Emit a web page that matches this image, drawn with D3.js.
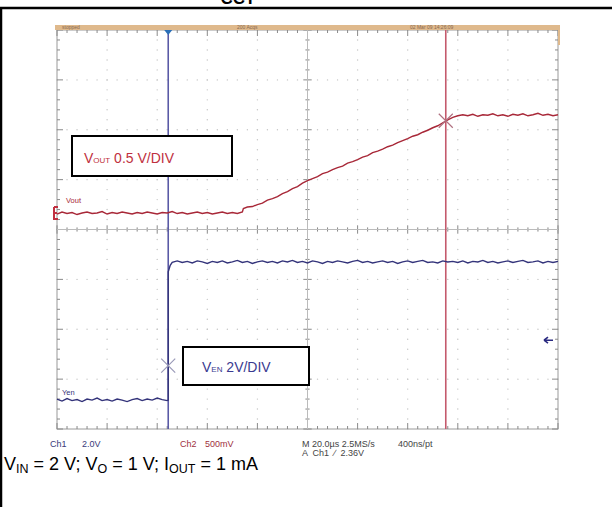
<!DOCTYPE html>
<html lang="en">
<head>
<meta charset="utf-8">
<script src="https://cdn.jsdelivr.net/npm/d3@7/dist/d3.min.js"></script>
<style>
body{margin:0;background:#fff;}
svg text{font-family:"Liberation Sans",Arial,sans-serif;}
</style>
</head>
<body>
<div id="drawarea"></div>
<script>
// scope screen: 10 x 8 divisions, values in divisions
const xDivs=[0,1,2,3,4,5,6,7,8,9,10]
const yDivs=[-4,-3,-2,-1,0,1,2,3,4]
// Vout trace (Ch2, 0.5 V/div) [time div, level div]
const voutPts=[[0,0.31],[0.1,0.35],[0.2,0.32],[0.3,0.34],[0.4,0.30],[0.5,0.33],[0.6,0.35],[0.7,0.32],[0.8,0.33],[0.9,0.36],
[1.0,0.31],[1.1,0.34],[1.2,0.32],[1.3,0.35],[1.4,0.33],[1.5,0.31],[1.6,0.34],[1.7,0.32],[1.8,0.35],[1.9,0.33],
[2.0,0.31],[2.1,0.34],[2.2,0.33],[2.3,0.36],[2.4,0.32],[2.5,0.34],[2.6,0.31],[2.7,0.33],[2.8,0.35],[2.9,0.32],
[3.0,0.34],[3.1,0.31],[3.2,0.33],[3.3,0.35],[3.4,0.32],[3.5,0.34],[3.6,0.32],[3.7,0.35],[3.72,0.42],[3.8,0.45],[3.9,0.46],
[4.0,0.50],[4.1,0.53],[4.2,0.59],[4.3,0.62],[4.4,0.66],[4.5,0.72],[4.6,0.76],[4.7,0.82],[4.8,0.86],[4.9,0.93],
[5.0,0.98],[5.1,1.02],[5.2,1.06],[5.3,1.12],[5.4,1.15],[5.5,1.20],[5.6,1.24],[5.7,1.27],[5.8,1.33],[5.9,1.36],
[6.0,1.40],[6.1,1.45],[6.2,1.48],[6.3,1.54],[6.4,1.57],[6.5,1.61],[6.6,1.66],[6.7,1.69],[6.8,1.74],[6.9,1.78],
[7.0,1.82],[7.1,1.87],[7.2,1.90],[7.3,1.95],[7.4,1.99],[7.5,2.04],[7.6,2.08],[7.7,2.14],[7.8,2.20],[7.9,2.25],
[8.0,2.28],[8.1,2.30],[8.2,2.28],[8.3,2.31],[8.4,2.27],[8.5,2.30],[8.6,2.29],[8.7,2.32],[8.8,2.28],[8.9,2.30],
[9.0,2.27],[9.1,2.31],[9.2,2.29],[9.3,2.32],[9.4,2.28],[9.5,2.30],[9.6,2.33],[9.7,2.29],[9.8,2.31],[9.9,2.28],[10,2.30]]
// Ven trace (Ch1, 2 V/div)
const venPts=[[0,-3.40],[0.1,-3.44],[0.2,-3.39],[0.3,-3.43],[0.4,-3.41],[0.5,-3.45],[0.6,-3.40],[0.7,-3.42],[0.8,-3.38],[0.9,-3.43],
[1.0,-3.41],[1.1,-3.44],[1.2,-3.40],[1.3,-3.42],[1.4,-3.45],[1.5,-3.41],[1.6,-3.39],[1.7,-3.43],[1.8,-3.40],[1.9,-3.42],
[2.0,-3.38],[2.1,-3.41],[2.2,-3.43],[2.22,-3.42],[2.22,-0.85],[2.26,-0.72],[2.3,-0.66],[2.4,-0.63],[2.5,-0.66],[2.6,-0.64],
[2.7,-0.67],[2.8,-0.63],[2.9,-0.65],[3.0,-0.68],[3.1,-0.64],[3.2,-0.66],[3.3,-0.63],[3.4,-0.67],[3.5,-0.65],[3.6,-0.62],
[3.7,-0.66],[3.8,-0.64],[3.9,-0.68],[4.0,-0.65],[4.1,-0.63],[4.2,-0.66],[4.3,-0.64],[4.4,-0.67],[4.5,-0.63],[4.6,-0.65],
[4.7,-0.62],[4.8,-0.66],[4.9,-0.64],[5.0,-0.67],[5.1,-0.63],[5.2,-0.65],[5.3,-0.68],[5.4,-0.64],[5.5,-0.66],[5.6,-0.63],
[5.7,-0.65],[5.8,-0.67],[5.9,-0.64],[6.0,-0.62],[6.1,-0.66],[6.2,-0.64],[6.3,-0.67],[6.4,-0.65],[6.5,-0.63],[6.6,-0.66],
[6.7,-0.64],[6.8,-0.68],[6.9,-0.65],[7.0,-0.63],[7.1,-0.66],[7.2,-0.64],[7.3,-0.62],[7.4,-0.66],[7.5,-0.65],[7.6,-0.67],
[7.7,-0.63],[7.8,-0.65],[7.9,-0.64],[8.0,-0.66],[8.1,-0.63],[8.2,-0.67],[8.3,-0.64],[8.4,-0.65],[8.5,-0.62],[8.6,-0.66],
[8.7,-0.64],[8.8,-0.67],[8.9,-0.65],[9.0,-0.63],[9.1,-0.66],[9.2,-0.64],[9.3,-0.62],[9.4,-0.66],[9.5,-0.65],[9.6,-0.63],
[9.7,-0.67],[9.8,-0.64],[9.9,-0.66],[10,-0.64]]
const trigT=2.22, cursorT=7.76
const markVout=[7.76,2.18], markVen=[2.22,-2.73]
const rightArrowLvl=-2.22
const readout1=[["Ch1",50,"#3a3a7a"],["2.0V",82,"#3a3a7a"],["Ch2",180,"#a03040"],["500mV",205,"#a03040"],["M 20.0\u00b5s 2.5MS/s",302,"#444"],["400ns/pt",398,"#444"]]
const readout2="A  Ch1  \u2215  2.36V"

const W=612,H=507
const svg=d3.select("#drawarea").append("svg").attr("width",W).attr("height",H)
const x=d3.scaleLinear().domain([0,10]).range([57,558])
const y=d3.scaleLinear().domain([-4,4]).range([429,30])

// outer figure frame + title (cut by top edge as in source)
svg.append("rect").attr("x",1).attr("y",8).attr("width",W+10).attr("height",H+10).attr("fill","none").attr("stroke","#000").attr("stroke-width",2.5)
svg.append("text").attr("x",238).attr("y",4).attr("text-anchor","middle").attr("font-size",17).attr("font-weight","bold").text("CCT")

const g=svg.append("g")
// graticule dots
const minor=d3.range(0,10.01,0.2)
const minorY=d3.range(-4,4.01,0.2)
xDivs.slice(1,-1).forEach(d=>{
  g.selectAll(null).data(minorY).join("circle").attr("cx",x(d)).attr("cy",v=>y(v)).attr("r",0.7).attr("fill","#c4c4c4")
})
yDivs.slice(1,-1).forEach(d=>{
  g.selectAll(null).data(minor).join("circle").attr("cx",v=>x(v)).attr("cy",y(d)).attr("r",0.7).attr("fill","#c4c4c4")
})
// border
g.append("rect").attr("x",x(0)).attr("y",y(4)).attr("width",x(10)-x(0)).attr("height",y(-4)-y(4)).attr("fill","none").attr("stroke","#9a9a9a").attr("stroke-width",1)
// ticks on edges and centre axes
const tk=g.append("g").attr("stroke","#8a8a8a").attr("stroke-width",1)
minor.forEach(v=>{
  const L=(Math.abs(v-Math.round(v))<1e-6)?6:3
  tk.append("line").attr("x1",x(v)).attr("x2",x(v)).attr("y1",y(4)).attr("y2",y(4)+L)
  tk.append("line").attr("x1",x(v)).attr("x2",x(v)).attr("y1",y(-4)).attr("y2",y(-4)-L)
  tk.append("line").attr("x1",x(v)).attr("x2",x(v)).attr("y1",y(0)-L*0.7).attr("y2",y(0)+L*0.7)
})
minorY.forEach(v=>{
  const L=(Math.abs(v-Math.round(v))<1e-6)?6:3
  tk.append("line").attr("y1",y(v)).attr("y2",y(v)).attr("x1",x(0)).attr("x2",x(0)+L)
  tk.append("line").attr("y1",y(v)).attr("y2",y(v)).attr("x1",x(10)).attr("x2",x(10)-L)
  tk.append("line").attr("y1",y(v)).attr("y2",y(v)).attr("x1",x(5)-L*0.7).attr("x2",x(5)+L*0.7)
})
tk.append("line").attr("x1",x(0)).attr("x2",x(10)).attr("y1",y(0)).attr("y2",y(0)).attr("stroke","#bbb")
tk.append("line").attr("x1",x(5)).attr("x2",x(5)).attr("y1",y(4)).attr("y2",y(-4)).attr("stroke","#bbb")
// top status bar
g.append("rect").attr("x",x(0)-2).attr("y",25).attr("width",x(10)-x(0)+4).attr("height",5).attr("fill","#dfb98c")
g.append("rect").attr("x",x(10)).attr("y",25).attr("width",2).attr("height",20).attr("fill","#dfb98c")
;[[62,"stopped"],[237,"200 Acqs"],[410,"02 Mar 09 14:26:09"]].forEach(d=>{
  g.append("text").attr("x",d[0]).attr("y",28.5).attr("font-size",5).attr("fill","#8a6a50").text(d[1])
})

// cursors
g.append("line").attr("x1",x(trigT)).attr("x2",x(trigT)).attr("y1",y(4)).attr("y2",y(-4)).attr("stroke","#5a5aa6").attr("stroke-width",1.6)
g.append("line").attr("x1",x(cursorT)).attr("x2",x(cursorT)).attr("y1",y(4)).attr("y2",y(-4)).attr("stroke","#c45a6c").attr("stroke-width",1.6)
g.append("path").attr("d",`M${x(trigT)-4},${y(4)}L${x(trigT)+4},${y(4)}L${x(trigT)},${y(4)+5}Z`).attr("fill","#2a6fb8")

// traces
const line=d3.line().x(d=>x(d[0])).y(d=>y(d[1]))
g.append("path").datum(voutPts).attr("d",line).attr("fill","none").attr("stroke","#a82838").attr("stroke-width",1.4)
g.append("path").datum(venPts).attr("d",line).attr("fill","none").attr("stroke","#33337a").attr("stroke-width",1.4)

// X markers
function xMark(p,c){
  const cx=x(p[0]),cy=y(p[1]),s=7
  g.append("path").attr("d",`M${cx-s},${cy-s}L${cx+s},${cy+s}M${cx-s},${cy+s}L${cx+s},${cy-s}`).attr("stroke",c).attr("stroke-width",1.2)
}
xMark(markVout,"#b07080")
xMark(markVen,"#9a9ab8")

// channel labels and ground markers
g.append("text").attr("x",66).attr("y",y(voutPts[0][1])-11).attr("font-size",7.5).attr("fill","#a82838").text("Vout")
g.append("text").attr("x",62).attr("y",y(venPts[0][1])-4).attr("font-size",7.5).attr("fill","#33337a").text("Yen")
g.append("path").attr("d",`M${x(0)-3},${y(0.33)-6}L${x(0)+1},${y(0.33)-6}M${x(0)-3},${y(0.33)-6}L${x(0)-3},${y(0.33)+6}L${x(0)+1},${y(0.33)+6}M${x(0)-3},${y(0.33)}L${x(0)},${y(0.33)}`).attr("stroke","#c03040").attr("stroke-width",2).attr("fill","none")
g.append("path").attr("d",`M${x(10)-14},${y(rightArrowLvl)}L${x(10)-5},${y(rightArrowLvl)}M${x(10)-14},${y(rightArrowLvl)}L${x(10)-10},${y(rightArrowLvl)-3}M${x(10)-14},${y(rightArrowLvl)}L${x(10)-10},${y(rightArrowLvl)+3}`).attr("stroke","#2a2a80").attr("stroke-width",1.6).attr("fill","none")

// annotation boxes
function box(x0,y0,w,h,tx,ty,main,sub,rest,col){
  g.append("rect").attr("x",x0).attr("y",y0).attr("width",w).attr("height",h).attr("fill","#fff").attr("stroke","#000").attr("stroke-width",2)
  const t=g.append("text").attr("x",tx).attr("y",ty).attr("font-size",14).attr("fill",col)
  t.append("tspan").text(main)
  t.append("tspan").attr("font-size",8).text(sub)
  t.append("tspan").text(rest)
}
box(72,136,160,40,84,163,"V","OUT"," 0.5 V/DIV","#c03040")
box(183,347,126,38,202,372,"V","EN"," 2V/DIV","#3a3a90")

// scope readout
readout1.forEach(d=>{
  svg.append("text").attr("x",d[1]).attr("y",447).attr("font-size",9).attr("fill",d[2]).text(d[0])
})
svg.append("text").attr("x",302).attr("y",456).attr("font-size",9).attr("fill","#444").attr("xml:space","preserve").text(readout2)

// caption
const cap=svg.append("text").attr("x",4).attr("y",470).attr("font-size",18).attr("fill","#000")
;[["V",""],["IN","s"],[" = 2 V; V",""],["O","s"],[" = 1 V; I",""],["OUT","s"],[" = 1 mA",""]].forEach(d=>{
  const ts=cap.append("tspan").text(d[0])
  if(d[1]==="s") ts.attr("font-size",12.5).attr("dy",3)
  else ts.attr("dy",cap.selectAll("tspan").size()>1?-3:0)
})
</script>
</body>
</html>
